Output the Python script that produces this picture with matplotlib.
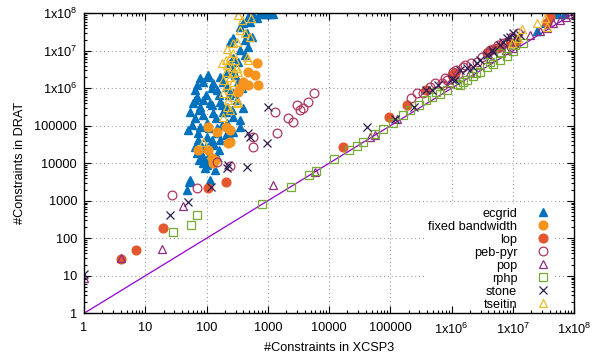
import matplotlib
matplotlib.use("Agg")
import matplotlib.pyplot as plt
from matplotlib.ticker import FixedLocator, LogLocator, NullFormatter

plt.rcParams['font.family'] = ['Liberation Sans', 'DejaVu Sans']
plt.rcParams['mathtext.fontset'] = 'custom'
plt.rcParams['mathtext.rm'] = 'Liberation Sans'
plt.rcParams['mathtext.it'] = 'Liberation Sans'

# ---------------- data ----------------
ecgrid_x = [840, 970, 1220, 750, 570, 480, 670, 510, 390, 350, 1090, 460, 425, 550, 270, 240,
            480, 350, 425, 270, 330, 240, 270, 215, 165, 185, 78, 100, 105, 70, 65, 128, 148,
            215, 270, 315, 70, 88, 114, 166, 215, 260, 78, 128, 270, 350, 88, 100, 148, 78, 73,
            100, 148, 215, 270, 350, 85, 128, 114, 88, 78, 166, 240, 60, 122, 186, 394, 73, 128,
            148, 88, 95, 138, 114, 54, 48, 101, 69, 51,
            50, 58, 65, 54, 75, 98, 122, 160, 180, 208, 143, 110, 180, 208, 122, 65, 98, 160,
            75, 110, 330, 380, 232, 292, 88, 65]
ecgrid_y = [9.5e7, 9.5e7, 9.5e7, 9.5e7, 9.0e7, 8.0e7, 7.5e7, 5.9e7, 5.5e7, 4.3e7, 9.8e7, 3.0e7,
            1.9e7, 2.3e7, 2.2e7, 1.7e7, 1.26e7, 1.05e7, 7.7e6, 6.4e6, 5.0e6, 4.7e6, 3.1e6, 2.6e6,
            2.0e6, 1.47e6, 1.9e6, 2.0e6, 2.3e6, 1.22e6, 9.0e5, 1.38e6, 9.0e5, 1.08e6, 7.5e5,
            4.9e5, 5.9e5, 4.9e5, 4.1e5, 4.3e5, 3.2e5, 2.6e5, 3.2e5, 2.2e5, 1.7e5, 1.43e5, 1.9e5,
            1.19e5, 8.7e4, 9.3e4, 6.4e4, 5.0e4, 6.4e4, 1.19e5, 6.8e4, 9.3e4, 2.7e4, 3.5e4, 1.9e4,
            1.47e4, 2.0e4, 4.2e4, 5.0e4, 4.1e5, 3.6e5, 2.3e5, 3.0e5, 4.2e4, 3.1e4, 1.47e4,
            1.02e4, 7.5e3, 6.6e3, 3.6e3, 3.6e3, 1.9e3, 9.0e3, 1.9e4, 3.1e3,
            7.7e4, 1.05e5, 1.6e5, 2.3e5, 2.6e5, 6.6e5, 1.0e6, 6.6e5, 3.6e5, 2.3e5, 1.6e5, 8.7e4,
            1.05e5, 5.7e4, 4.2e4, 2.7e4, 2.7e4, 2.3e4, 1.22e4, 1.22e4, 1.47e6, 1.0e6, 6.6e5,
            2.3e6, 1.47e6, 4.9e5]
ecgrid_x += [2.5e7, 3.4e7, 5.3e7, 6.9e7]
ecgrid_y += [3.3e7, 5.5e7, 9.5e7, 9.7e7]

fixed_x = [667, 476, 619, 394, 476, 700, 330, 350, 105, 148, 205, 240, 73, 105, 122, 225, 240,
           128, 138]
fixed_y = [4.7e6, 2.8e6, 2.3e6, 1.47e6, 1.22e6, 1.22e6, 8.0e5, 1.0e6, 9.3e4, 6.8e4, 9.3e4,
           7.7e4, 2.3e4, 2.3e4, 1.4e4, 3.5e4, 3.8e4, 1.0e4, 1.2e4]

lop_x = [4.0, 7.1, 19.3, 105, 208, 1.7e4, 9.5e4, 1.85e5, 3.9e5, 1.0e6, 1.14e6, 3.9e6, 4.8e6,
         6.2e6, 9.0e6, 1.15e7, 3.6e7, 4.1e7]
lop_y = [28, 49, 192, 2230, 3080, 2.8e4, 1.75e5, 3.5e5, 8.8e5, 2.3e6, 2.6e6, 9.3e6, 1.1e7,
         1.26e7, 1.6e7, 1.75e7, 5.5e7, 8.1e7]

peb_x = [27, 69, 147, 242, 574, 574, 1400, 1310, 2140, 2580, 2970, 3800, 4590, 5750, 3360,
         2.2e5, 2.7e5, 3.4e5, 4.5e5, 5.4e5, 6.9e5, 7.8e5, 1.06e6, 1.2e6, 1.54e6, 1.66e6, 2.1e6,
         2.6e6, 3.1e6, 3.8e6, 4.3e6, 5.5e6, 5.7e6, 7.0e6, 8.0e6, 9.6e6, 1.23e7, 7.3e5, 8.3e5,
         1.28e6]
peb_y = [1430, 2230, 1.1e4, 8.6e3, 2.8e4, 5.1e4, 6.3e4, 2.4e5, 1.6e5, 1.29e5, 3.6e5, 2.9e5,
         4.2e5, 7.6e5, 2.6e5, 5.5e5, 7.4e5, 7.5e5, 1.1e6, 1.36e6, 1.36e6, 1.85e6, 2.8e6, 3.1e6,
         3.8e6, 4.2e6, 4.6e6, 5.1e6, 7.0e6, 8.6e6, 1.05e7, 1.17e7, 1.43e7, 1.58e7, 1.75e7,
         2.4e7, 2.9e7, 1.22e6, 1.66e6, 2.4e6]

pop_x = [1, 4, 19, 42, 1230, 5900, 4.7e4, 5.6e4, 1.27e5, 9.5e5, 2.0e6, 4.3e6, 7.8e6, 1.0e7,
         1.15e7, 1.9e7, 2.8e7, 3.6e7, 4.6e7, 5.9e7, 7.4e7, 8.6e7]
pop_y = [8.5, 29, 51, 740, 2640, 6000, 5.1e4, 5.7e4, 1.52e5, 1.38e6, 2.8e6, 6.4e6, 1.05e7,
         1.17e7, 1.75e7, 2.6e7, 3.3e7, 4.0e7, 5.5e7, 6.6e7, 8.0e7, 9.5e7]

rphp_x = [28, 55, 71, 815, 2400, 4770, 6140, 1.22e4, 2.1e4, 2.9e4, 3.6e4, 5.6e4, 7.7e4,
          1.12e5, 1.63e5, 2.1e5, 2.9e5, 3.9e5, 4.8e5, 6.5e5, 8.4e5, 1.22e6, 1.38e6, 1.77e6,
          2.27e6, 2.9e6, 3.8e6, 4.8e6, 6.2e6, 8.0e6, 1.02e7, 1.49e7, 1.09e7, 6.5e6, 1.55e6,
          2.5e6, 4.3e6, 5.6e5]
rphp_y = [145, 226, 418, 820, 2380, 4880, 6230, 1.28e4, 2.2e4, 2.9e4, 3.8e4, 6.0e4, 8.2e4,
          1.17e5, 1.94e5, 2.56e5, 3.6e5, 4.9e5, 6.0e5, 7.0e5, 9.0e5, 1.3e6, 1.22e6, 1.66e6,
          2.1e6, 2.8e6, 3.7e6, 4.4e6, 5.7e6, 7.3e6, 9.9e6, 1.58e7, 1.43e7, 8.6e6, 1.47e6,
          2.6e6, 5.0e6, 8.0e5]

stone_x = [1, 25, 50, 117, 214, 227, 453, 480, 513, 960, 1020, 4.1e4, 1.2e5, 2.4e5, 3.9e5,
           4.8e5, 6.1e5, 1.0e6, 1.14e6, 1.38e6, 1.79e6, 2.27e6, 2.6e6, 2.9e6, 3.8e6, 4.5e6,
           4.8e6, 6.2e6, 7.0e6, 8.0e6, 9.0e6, 1.09e7, 1.31e7, 1.02e7]
stone_y = [11, 420, 950, 2290, 7400, 9000, 7800, 6.3e4, 5.1e4, 3.4e4, 3.2e5, 9.5e4, 1.56e5,
           3.2e5, 9.0e5, 9.0e5, 1.22e6, 1.77e6, 1.66e6, 3.1e6, 3.5e6, 3.8e6, 4.7e6, 5.7e6,
           7.7e6, 1.05e7, 9.3e6, 1.43e7, 1.75e7, 2.15e7, 2.4e7, 2.15e7, 2.6e7, 2.9e7]

tseitin_x = [330, 375, 535, 425, 513, 350, 270, 315, 215, 270, 240, 205, 292, 458, 476, 215,
             260, 315, 205, 270, 240, 185, 270, 215, 240, 185, 270, 225, 330, 215, 240, 185,
             315, 88, 180, 330, 2.5e7, 3.4e7, 1.42e7, 1.22e7, 9.7e6, 3.6e7]
tseitin_y = [9.0e7, 6.6e7, 7.5e7, 3.0e7, 2.3e7, 3.6e7, 1.6e7, 1.7e7, 1.1e7, 8.7e6, 7.0e6,
             5.7e6, 5.7e6, 7.0e6, 5.7e6, 4.2e6, 3.6e6, 3.4e6, 2.8e6, 2.6e6, 2.0e6, 1.66e6,
             1.47e6, 1.22e6, 9.0e5, 7.5e5, 5.9e5, 4.9e5, 4.3e5, 3.2e5, 2.6e5, 1.7e5, 4.1e5,
             3.8e4, 4.7e6, 2.8e6, 5.5e7, 7.5e7, 3.7e7, 2.2e7, 1.6e7, 4.3e7]

decades = [1, 10, 100, 1000, 10000, 100000, 1e6, 1e7, 1e8]
x_labels = ['1', '10', '100', '1000', '10000', '100000',
            r'$\mathregular{1x10^{6}}$', r'$\mathregular{1x10^{7}}$', r'$\mathregular{1x10^{8}}$']
y_labels = ['1', '10', '100', '1000', '10000', '100000',
            r'$\mathregular{1x10^{6}}$', r'$\mathregular{1x10^{7}}$', r'$\mathregular{1x10^{8}}$']

# ---------------- figure ----------------
fig = plt.figure(figsize=(5.93, 3.58), dpi=100)
ax = fig.add_axes([84 / 593, 1 - 313.3 / 358, 490 / 593, 300 / 358])
ax.set_xscale('log')
ax.set_yscale('log')
lims = (decades[0], decades[-1])
ax.set_xlim(*lims)
ax.set_ylim(*lims)

# dotted major grid, drawn below the (opaque) key
grid_style = dict(linestyle=(0, (1, 2.5)), color='#a0a0a0', lw=0.8, zorder=1)
for d in decades[1:-1]:
    ax.axhline(d, **grid_style)
    ax.axvline(d, **grid_style)

ax.plot(lims, lims, color='#9400d3', lw=0.9, zorder=2.2)

series = [
    ('ecgrid', ecgrid_x, ecgrid_y, dict(marker='^', color='#0072bd', mfc='#0072bd', ms=6.2)),
    ('fixed bandwidth', fixed_x, fixed_y, dict(marker='o', color='#f7941d', mfc='#f7941d', ms=6.3)),
    ('lop', lop_x, lop_y, dict(marker='o', color='#e4572e', mfc='#e4572e', ms=6.3)),
    ('peb-pyr', peb_x, peb_y, dict(marker='o', color='#b0365c', mfc='none', ms=6.3, mew=0.9)),
    ('pop', pop_x, pop_y, dict(marker='^', color='#8b2f7e', mfc='none', ms=6.2, mew=0.9)),
    ('rphp', rphp_x, rphp_y, dict(marker='s', color='#77ac30', mfc='none', ms=6.2, mew=0.9)),
    ('stone', stone_x, stone_y, dict(marker='x', color='#2c1f54', ms=6.3, mew=0.9)),
    ('tseitin', tseitin_x, tseitin_y, dict(marker='^', color='#f0b929', mfc='none', ms=6.2, mew=0.9)),
]
for name, xs, ys, st in series:
    ax.plot(xs, ys, linestyle='none', label=name, zorder=3, clip_on=True, **st)

# ticks
for axis in (ax.xaxis, ax.yaxis):
    axis.set_major_locator(FixedLocator(decades))
    axis.set_minor_locator(LogLocator(base=10, subs=range(2, 10), numticks=20))
    axis.set_minor_formatter(NullFormatter())
ax.set_xticklabels(x_labels)
ax.set_yticklabels(y_labels)
ax.tick_params(which='both', direction='in', top=True, right=True, labelsize=9.2,
               colors='black', width=0.8)
ax.tick_params(which='major', length=5)
ax.tick_params(which='minor', length=2.5)
ax.tick_params(axis='x', pad=6)
ax.tick_params(axis='y', pad=5)
ax.set_axisbelow(False)
for sp in ax.spines.values():
    sp.set_linewidth(1.0)
    sp.set_zorder(4)

ax.set_xlabel('#Constraints in XCSP3', fontsize=9.2, labelpad=4)
ax.set_ylabel('#Constraints in DRAT', fontsize=9.2, labelpad=6)

leg = ax.legend(loc='lower right', bbox_to_anchor=(1.0 - 17 / 490, -4 / 300), markerfirst=False,
                frameon=True, framealpha=1, facecolor='white', edgecolor='none',
                fancybox=False, fontsize=9.2, labelspacing=0.08, handlelength=1.2,
                handletextpad=1.4, borderpad=0.3, borderaxespad=0.2)
for t in leg.get_texts():
    t.set_ha('right')
leg.set_zorder(2)

fig.savefig('out.png', dpi=100)
